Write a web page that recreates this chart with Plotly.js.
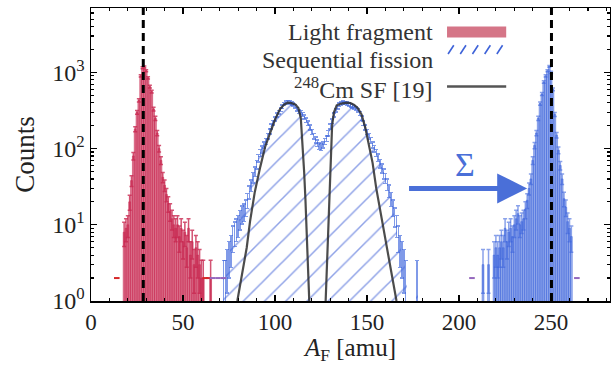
<!DOCTYPE html>
<html>
<head>
<meta charset="utf-8">
<script src="https://cdn.plot.ly/plotly-3.0.1.min.js"></script>
<style>html,body{margin:0;padding:0;background:#fff;}#chart{width:611px;height:365px;}</style>
</head>
<body>
<div id="chart"></div>
<script>
// ---- Data ----
const lightMass = [18,19,20,21,22,23,24,25,26,27,28,29,30,31,32,33,34,35,36,37,38,39,40,41,42,43,44,45,46,47,48,49,50,51,52,53,54,55,56,57,58,59,60,61,65];
const lightCounts = [8,9,10,20,38,80,180,300,430,900,1150,1180,1050,850,650,560,330,250,160,100,70,42,33,25,19,15,12,10,9,10,7,9,6,8,5,9,4,6,3,5,4,3,2,2,2];

const seqMass = [72,73,74,75,76,77,78,79,80,81,82,83,84,85,86,87,88,89,90,91,92,93,94,95,96,97,98,99,100,101,102,103,104,105,106,107,108,109,110,111,112,113,114,115,116,117,118,119,120,121,122,123,124,125,126,127,128,129,130,131,132,133,134,135,136,137,138,139,140,141,142,143,144,145,146,147,148,149,150,151,152,153,154,155,156,157,158,159,160,161,162,163,164,165,166,167,168,169,170,171,177];
const seqCounts = [2,2,3,4,5,7,8,9,10,12,14,15,17,21,27,33,42,50,62,75,88,98,112,125,145,168,195,220,245,275,300,325,355,385,400,410,405,395,380,360,330,305,300,280,260,235,215,190,165,145,130,118,108,105,112,125,135,160,195,230,275,320,350,375,390,400,398,390,380,372,360,348,335,318,290,250,215,190,165,145,128,112,100,88,76,64,55,47,41,34,28,22,17,13,10,7,5,4,3,2,2];

const sumMass = [213,216,219,220,221,222,223,224,225,226,227,228,229,230,231,232,233,234,235,236,237,238,239,240,241,242,243,244,245,246,247,248,249,250,251,252,253,254,255,256,257,258,259,260,261];
const sumCounts = [3,3,4,5,4,5,6,5,9,6,8,9,7,10,12,14,10,11,12,16,21,30,40,70,110,160,250,390,520,750,900,1050,1200,1000,600,280,150,95,60,40,22,17,11,9,7];

const lightSingleMass = [14,62,64];
const seqSingleMass = [66,69,72,207,264];
const singleCount = 2;

const cmMassL = [79.5,81,82.8,84.6,86.4,89,92,94.6,97.3,100,102.7,105,107,109,111,112.7,114,115,115.8,116.5,117.2,118,118.6];
const cmCountsL = [1,1.6,2.5,5,11,27,58,105,160,240,330,380,400,395,380,340,250,120,50,22,9,3,1];
const cmMassR = [127.5,128.2,128.8,129.4,130.2,131,132,133.5,136,139,141,143,145,147,149,151,153,155,157,159,161,163,165,166];
const cmCountsR = [1,3,10,30,90,200,300,370,390,400,395,375,340,280,190,115,65,30,16,9,5,2.6,1.3,1];

const refMasses = [28.4, 250.2];
const xTicks = [0,50,100,150,200,250];
const yTicks = [1,10,100,1000];
const yTickText = ['10<sup>0</sup>','10<sup>1</sup>','10<sup>2</sup>','10<sup>3</sup>'];
const legendLabels = ['Light fragment','Sequential fission','<sup>248</sup>Cm SF [19]'];

// ---- Styles ----
const FONT = 'Times New Roman, Liberation Serif, Times, serif';
const RED = 'rgba(200,40,80,';
const BLUE = 'rgba(60,100,220,';
const err = a => a.map(v => Math.sqrt(v));

const traces = [
  {type:'bar', x: lightMass, y: lightCounts, width: 1,
   marker:{color: RED+'0.6)', line:{color: RED+'0.9)', width:0.6}},
   error_y:{type:'data', array: err(lightCounts), color: RED+'0.8)', thickness:1.5, width:2}},
  {type:'bar', x: seqMass, y: seqCounts, width: 1,
   marker:{color:'rgba(0,0,0,0)', line:{width:0},
     pattern:{shape:'/', fgcolor:'#1f45d0', bgcolor:'rgba(0,0,0,0)', size:15, solidity:0.1, fillmode:'overlay'}},
   error_y:{type:'data', array: err(seqCounts), color: BLUE+'0.65)', thickness:1.5, width:2}},
  {type:'bar', x: sumMass, y: sumCounts, width: 1,
   marker:{color: BLUE+'0.5)', line:{color: BLUE+'0.8)', width:0.6}},
   error_y:{type:'data', array: err(sumCounts), color: BLUE+'0.6)', thickness:1.5, width:2}},
  {type:'scatter', mode:'markers', x: lightSingleMass, y: lightSingleMass.map(()=>singleCount),
   marker:{symbol:'line-ew-open', size:4, line:{color: RED+'0.7)', width:2}}},
  {type:'scatter', mode:'markers', x: seqSingleMass, y: seqSingleMass.map(()=>singleCount),
   marker:{symbol:'line-ew-open', size:4, line:{color: BLUE+'0.6)', width:2}}},
  {type:'scatter', mode:'lines', x: cmMassL, y: cmCountsL, line:{color:'rgba(45,45,45,0.85)', width:2.2}},
  {type:'scatter', mode:'lines', x: cmMassR, y: cmCountsR, line:{color:'rgba(45,45,45,0.85)', width:2.2}}
];

const shapes = refMasses.map(m => ({type:'line', xref:'x', yref:'paper', x0:m, x1:m, y0:0, y1:1,
  line:{color:'black', width:3, dash:'8px,5px'}}));
// legend handles
shapes.push({type:'rect', xref:'paper', yref:'paper', x0:0.686, x1:0.8, y0:0.899, y1:0.937,
  fillcolor:'#d57587', line:{width:0}});
for (let k = 0; k < 5; k++) {
  const x0 = 0.688 + k*0.0235;
  shapes.push({type:'line', xref:'paper', yref:'paper', x0:x0, x1:x0+0.011, y0:0.843, y1:0.873,
    line:{color:'#3d62d8', width:1.6}});
}
shapes.push({type:'line', xref:'paper', yref:'paper', x0:0.686, x1:0.8, y0:0.732, y1:0.732,
  line:{color:'#555', width:2.5}});

const legY = [0.917, 0.823, 0.728];
const annotations = legendLabels.map((t,i) => ({xref:'paper', yref:'paper', x:0.662, y:legY[i],
  xanchor:'right', yanchor:'middle', text:t, showarrow:false, font:{family:FONT, size:24, color:'#333'}}));
annotations.push({xref:'x', yref:'y', axref:'x', ayref:'y', x:237, y:Math.log10(30), ax:172, ay:Math.log10(30),
  text:'', showarrow:true, arrowhead:2, arrowsize:1.2, arrowwidth:5, arrowcolor:'#4a6fd8'});
annotations.push({xref:'x', yref:'y', x:203, y:Math.log10(62), text:'Σ', showarrow:false,
  font:{family:FONT, size:34, color:'#4a6fd8'}});

const layout = {
  width:611, height:365,
  margin:{l:91, r:1, t:8, b:64},
  paper_bgcolor:'#fff', plot_bgcolor:'#fff',
  showlegend:false, barmode:'overlay', bargap:0,
  font:{family:FONT, color:'#222'},
  xaxis:{range:[0,282], tickmode:'array', tickvals:xTicks, ticks:'inside', ticklen:6, tickwidth:1.2,
    tickcolor:'black', mirror:'allticks', showline:true, linecolor:'black', linewidth:1.5,
    showgrid:false, zeroline:false, tickfont:{family:FONT, size:23, color:'#222'},
    minor:{dtick:10, tick0:0, ticks:'inside', ticklen:3, tickcolor:'black', showgrid:false},
    title:{text:'<i>A</i><sub>F</sub> [amu]', font:{family:FONT, size:25, color:'#222'}, standoff:8}},
  yaxis:{type:'log', range:[0,3.845], tickmode:'array', tickvals:yTicks, ticktext:yTickText,
    ticks:'inside', ticklen:6, tickwidth:1.2, tickcolor:'black', mirror:'allticks', showline:true,
    linecolor:'black', linewidth:1.5, showgrid:false, zeroline:false,
    tickfont:{family:FONT, size:24, color:'#222'},
    minor:{ticks:'inside', ticklen:3, tickcolor:'black', dtick:'D1', showgrid:false},
    title:{text:'Counts', font:{family:FONT, size:27, color:'#222'}, standoff:10}},
  shapes:shapes, annotations:annotations
};

Plotly.newPlot('chart', traces, layout, {displayModeBar:false, staticPlot:true});
</script>
</body>
</html>
